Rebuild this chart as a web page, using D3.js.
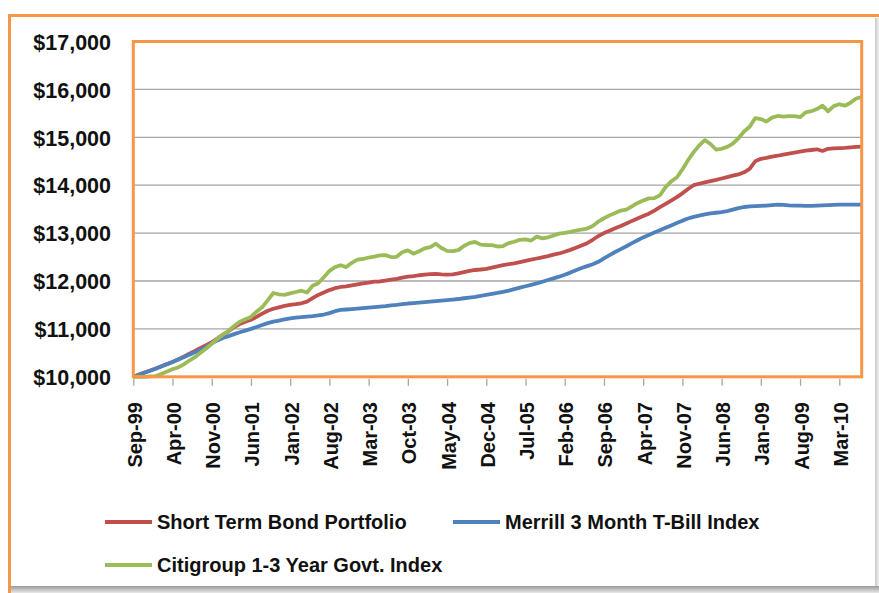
<!DOCTYPE html>
<html>
<head>
<meta charset="utf-8">
<script src="https://cdn.jsdelivr.net/npm/d3@7"></script>
<style>
  html, body { margin: 0; padding: 0; background: #ffffff; }
  svg { display: block; }
</style>
</head>
<body>
<main></main>
<script>
const WIDTH = 879;
const HEIGHT = 593;

// Monthly values, Sep-99 .. Jul-10 (131 months)
const shortTermBond = [
  10000, 10045, 10090, 10130, 10175, 10220, 10265, 10310, 10360, 10420,
  10480, 10540, 10600, 10660, 10720, 10800, 10880, 10950, 11040, 11100,
  11150, 11190, 11250, 11320, 11380, 11420, 11450, 11480, 11500, 11515,
  11535, 11570, 11640, 11710, 11760, 11810, 11850, 11875, 11890, 11910,
  11930, 11950, 11965, 11985, 11990, 12010, 12030, 12045, 12070, 12090,
  12100, 12120, 12135, 12145, 12150, 12140, 12135, 12140, 12160, 12185,
  12210, 12230, 12240, 12255, 12280, 12305, 12330, 12350, 12370, 12395,
  12420, 12445, 12470, 12495, 12520, 12550, 12575, 12610, 12650, 12695,
  12740, 12790, 12860, 12940, 13000, 13050, 13100, 13150, 13200, 13255,
  13305, 13355, 13405, 13470, 13540, 13610, 13680, 13750, 13830, 13920,
  14000, 14030, 14060, 14085, 14110, 14140, 14170, 14200, 14225, 14270,
  14340, 14500, 14550, 14570, 14595, 14615, 14640, 14660, 14680, 14700,
  14720, 14735, 14750, 14715, 14760, 14770, 14775, 14780, 14790, 14800,
  14805
];

const tBill = [
  10000, 10040, 10085, 10125, 10170, 10215, 10260, 10310, 10360, 10410,
  10460, 10510, 10560, 10620, 10700, 10760, 10810, 10850, 10890, 10930,
  10965, 11000, 11040, 11080, 11120, 11150, 11175, 11200, 11220, 11235,
  11245, 11255, 11265, 11280, 11300, 11330, 11370, 11395, 11405, 11415,
  11425, 11435, 11445, 11455, 11465, 11475, 11490, 11500, 11515, 11530,
  11540, 11550, 11560, 11570, 11580, 11590, 11600, 11612, 11624, 11640,
  11655, 11670, 11690, 11710, 11730, 11750, 11775, 11800, 11830, 11860,
  11890, 11920, 11950, 11985, 12020, 12055, 12090, 12130, 12175, 12225,
  12270, 12310, 12350, 12400, 12470, 12540, 12605, 12665, 12725, 12790,
  12850, 12910, 12960, 13010, 13060, 13110, 13160, 13210, 13260, 13305,
  13340, 13365, 13390, 13410, 13425, 13440, 13460, 13490, 13520, 13545,
  13560, 13565, 13570, 13575, 13585, 13595, 13590, 13580, 13575, 13575,
  13570, 13570, 13575, 13580, 13585, 13590, 13595, 13595, 13595, 13595,
  13595
];

const citigroup = [
  10000, 10005, 10000, 10010, 10015, 10060, 10110, 10160, 10195, 10260,
  10340, 10410, 10500, 10590, 10690, 10790, 10880, 10960, 11060, 11150,
  11200, 11250, 11360, 11450, 11600, 11750, 11720, 11710, 11740, 11770,
  11797, 11760, 11900, 11952, 12080, 12210, 12290, 12330, 12290, 12380,
  12445, 12460, 12490, 12510, 12535, 12540, 12500, 12505, 12600, 12640,
  12570, 12620, 12680, 12705, 12780, 12690, 12630, 12625, 12645, 12730,
  12790, 12815, 12760, 12750, 12750, 12720, 12730, 12790, 12820, 12860,
  12870, 12845, 12925, 12890, 12910, 12950, 12990, 13005, 13025, 13050,
  13075, 13095, 13150, 13240, 13310, 13370, 13420, 13470, 13490, 13560,
  13630, 13680, 13725, 13730, 13790, 13960, 14080, 14160, 14330, 14520,
  14690, 14830, 14940, 14860, 14745, 14760, 14800, 14870, 14980, 15120,
  15220, 15400, 15380, 15330, 15410, 15445, 15430, 15440, 15440, 15420,
  15520, 15545, 15590, 15660, 15540, 15650, 15690, 15660, 15720, 15810,
  15840
];

const seriesNames = ["Short Term Bond Portfolio", "Merrill 3 Month T-Bill Index", "Citigroup 1-3 Year Govt. Index"];
const seriesColors = ["#C0504D", "#4F81BD", "#9BBB59"];

const yTicks = [10000, 11000, 12000, 13000, 14000, 15000, 16000, 17000];
const tickLabels = ["Sep-99", "Apr-00", "Nov-00", "Jun-01", "Jan-02", "Aug-02", "Mar-03", "Oct-03",
                    "May-04", "Dec-04", "Jul-05", "Feb-06", "Sep-06", "Apr-07", "Nov-07", "Jun-08",
                    "Jan-09", "Aug-09", "Mar-10"];

// month categories Sep-99 .. Jul-10
const fmt = d3.timeFormat("%b-%y");
const months = d3.timeMonth.range(new Date(1999, 8, 1), new Date(2010, 7, 1)).map(fmt);

const plot = { left: 133.3, right: 861.7, top: 41.5, bottom: 376.8 };
const ORANGE = "#F79646";
const FONT = "'Liberation Sans', Arial, sans-serif";

function drawChart () {
    var svg = d3.select("main").append("svg")
                .attr("width", WIDTH)
                .attr("height", HEIGHT)
                .style("font-family", FONT);

    // shadow on the right and bottom of the chart box
    var defs = svg.append("defs");
    var gb = defs.append("linearGradient").attr("id", "shadowB").attr("x1", 0).attr("y1", 0).attr("x2", 0).attr("y2", 1);
    gb.append("stop").attr("offset", "0%").attr("stop-color", "#9a9a9a");
    gb.append("stop").attr("offset", "100%").attr("stop-color", "#e8e8e8");
    var gr = defs.append("linearGradient").attr("id", "shadowR").attr("x1", 0).attr("y1", 0).attr("x2", 1).attr("y2", 0);
    gr.append("stop").attr("offset", "0%").attr("stop-color", "#c8c8c8");
    gr.append("stop").attr("offset", "100%").attr("stop-color", "#f0f0f0");

    svg.append("rect").attr("x", 875).attr("y", 18).attr("width", 4).attr("height", HEIGHT - 18).attr("fill", "url(#shadowR)");
    svg.append("rect").attr("x", 10).attr("y", 586).attr("width", WIDTH - 10).attr("height", 7).attr("fill", "url(#shadowB)");

    // outer orange frame (top and left visible)
    svg.append("line").attr("x1", 8).attr("x2", WIDTH).attr("y1", 15.5).attr("y2", 15.5)
       .attr("stroke", ORANGE).attr("stroke-width", 3);
    svg.append("line").attr("x1", 9.5).attr("x2", 9.5).attr("y1", 14).attr("y2", HEIGHT)
       .attr("stroke", ORANGE).attr("stroke-width", 3);

    var x = d3.scalePoint().domain(months).range([plot.left, plot.right]);
    var y = d3.scaleLinear().domain([10000, 17000]).range([plot.bottom, plot.top]);

    // gridlines
    svg.append("g").selectAll("line")
       .data(yTicks.slice(1, -1))
       .join("line")
       .attr("x1", plot.left).attr("x2", plot.right)
       .attr("y1", d => y(d)).attr("y2", d => y(d))
       .attr("stroke", "#a6a6a6").attr("stroke-width", 1.3);

    // y axis labels
    var yAxis = d3.axisLeft(y).tickValues(yTicks).tickSize(0).tickPadding(0)
                  .tickFormat(d => "$" + d3.format(",")(d));
    var gy = svg.append("g").attr("transform", "translate(111,0)").call(yAxis);
    gy.select(".domain").remove();
    gy.selectAll("text").style("font-size", "21.5px").style("font-weight", "bold")
      .style("font-family", FONT)
      .attr("fill", "#111").attr("dy", "0.36em");

    // x axis ticks + labels
    var xAxis = d3.axisBottom(x).tickValues(tickLabels).tickSize(7).tickPadding(0);
    var gx = svg.append("g").attr("transform", "translate(0," + (plot.bottom + 2) + ")").call(xAxis);
    gx.select(".domain").remove();
    gx.selectAll(".tick line").attr("stroke", "#a6a6a6").attr("stroke-width", 1.3);
    gx.selectAll("text")
      .style("font-size", "20px")
      .style("font-weight", "bold")
      .style("font-family", FONT)
      .attr("fill", "#111")
      .attr("text-anchor", "end")
      .attr("transform", "translate(8," + (402 - plot.bottom - 2) + ") rotate(-90)")
      .attr("x", 0).attr("y", 0).attr("dy", 0);

    // lines
    var data = [shortTermBond, tBill, citigroup];
    var line = d3.line().x((d, i) => x(months[i])).y(d => y(d));
    svg.append("g").selectAll("path")
       .data(data)
       .join("path")
       .attr("d", line)
       .attr("fill", "none")
       .attr("stroke", (d, i) => seriesColors[i])
       .attr("stroke-width", 3.8)
       .attr("stroke-linejoin", "round");

    // plot area border
    svg.append("rect")
       .attr("x", plot.left).attr("y", plot.top)
       .attr("width", plot.right - plot.left).attr("height", plot.bottom - plot.top)
       .attr("fill", "none").attr("stroke", ORANGE).attr("stroke-width", 3);

    // legend
    var legendPos = [[105, 522], [453, 522], [105, 565]];
    var lg = svg.append("g").selectAll("g")
                .data(seriesNames)
                .join("g")
                .attr("transform", (d, i) => "translate(" + legendPos[i][0] + "," + legendPos[i][1] + ")");
    lg.append("line").attr("x1", 0).attr("x2", 47).attr("y1", 0).attr("y2", 0)
      .attr("stroke", (d, i) => seriesColors[i]).attr("stroke-width", 4);
    lg.append("text").attr("x", 52).attr("y", 0).attr("dy", "0.35em")
      .style("font-size", "20px").style("font-weight", "bold").attr("fill", "#111")
      .text(d => d);
}

drawChart();
</script>
</body>
</html>
